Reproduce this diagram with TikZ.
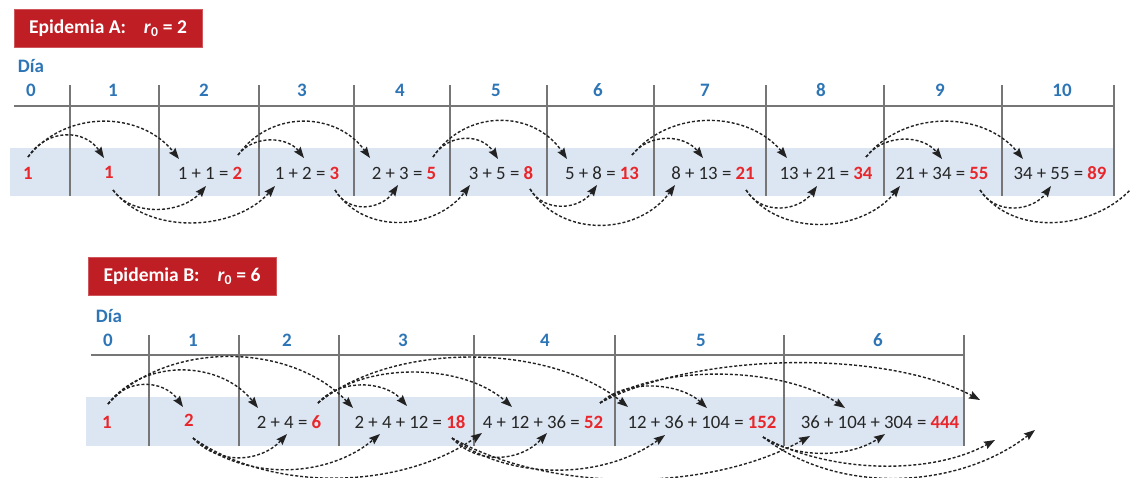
\documentclass[tikz,border=0pt]{standalone}
\usepackage{fontspec}
\setmainfont{Carlito}
\usetikzlibrary{arrows.meta}
\definecolor{titlered}{HTML}{BF1E24}
\definecolor{dayblue}{HTML}{2E75B6}
\definecolor{numred}{HTML}{E8262B}
\definecolor{bandblue}{HTML}{DCE6F2}
\definecolor{gridgray}{HTML}{767676}
\definecolor{arcc}{HTML}{222222}
\definecolor{celltext}{HTML}{262626}
\newcommand\rn[1]{\textcolor{numred}{\bfseries #1}}
\begin{document}
\begin{tikzpicture}[x=1pt,y=-1pt,
  titlebox/.style={fill=titlered, draw=titlered!75!white, line width=1pt, text=white,
    font=\fontsize{19.5}{22}\selectfont\bfseries, minimum width=188pt, minimum height=38pt, inner sep=0pt},
  dia/.style={text=dayblue, font=\fontsize{19}{22}\selectfont\bfseries, inner sep=0pt},
  cell/.style={font=\fontsize{18.8}{22}\selectfont, text=celltext, inner sep=0pt},
  gridline/.style={draw=gridgray, line width=2pt},
  band/.style={fill=bandblue, draw=none},
  arc/.style={draw=arcc, line width=1.4pt, dash pattern=on 3pt off 2pt,
    -{Stealth[length=11pt,width=8pt,inset=1.5pt]}},
]
\useasboundingbox (0,0) rectangle (1130,477);

% ================= Epidemia A =================
\node[titlebox] (tA) at (108,28) {Epidemia A:\hspace{18pt}\textit{r}\textsubscript{0} = 2};
\node[dia] (diaA) at (31,66) {Día};
\fill[band] (10,148) rectangle (1114,196);
\draw[gridline] (14,106) -- (1114,106);
\foreach \x in {70,159,259,354,450,547,654,766,884,1002,1114}
  \draw[gridline] (\x,85) -- (\x,196);
\foreach \d/\x in {0/31,1/113,2/204,3/302,4/400,5/496,6/598,7/705,8/821,9/940,10/1062}
  \node[dia] (dA\d) at (\x,90) {\d};

\node[cell] (A0) at (28,173) {\rn{1}};
\node[cell] (A1) at (109,172) {\rn{1}};
\node[cell] (A2) at (210,173) {1 + 1 = \rn{2}};
\node[cell] (A3) at (307,173) {1 + 2 = \rn{3}};
\node[cell] (A4) at (404,173) {2 + 3 = \rn{5}};
\node[cell] (A5) at (501,173) {3 + 5 = \rn{8}};
\node[cell] (A6) at (602,173) {5 + 8 = \rn{13}};
\node[cell] (A7) at (713,173) {8 + 13 = \rn{21}};
\node[cell] (A8) at (826,173) {13 + 21 = \rn{34}};
\node[cell] (A9) at (942,173) {21 + 34 = \rn{55}};
\node[cell] (A10) at (1060,173) {34 + 55 = \rn{89}};

% connector ends
\coordinate (a0u) at (28,157);  \coordinate (a2u) at (238,155);
\coordinate (a4u) at (433,157); \coordinate (a6u) at (632,155);
\coordinate (a8u) at (866,157);
\coordinate (a1i) at (104,158); \coordinate (a2i) at (179,159);
\coordinate (a3i) at (304,158); \coordinate (a4i) at (370,158);
\coordinate (a5i) at (498,159); \coordinate (a6i) at (567,159);
\coordinate (a7i) at (703,158); \coordinate (a8i) at (787,158);
\coordinate (a9i) at (942,159); \coordinate (a10i) at (1023,159);
\coordinate (a1d) at (113,190); \coordinate (a3d) at (335,190);
\coordinate (a5d) at (530,189); \coordinate (a7d) at (746,190);
\coordinate (a9d) at (980,190);
\coordinate (a2j) at (206,186); \coordinate (a3j) at (275,186);
\coordinate (a4j) at (398,185); \coordinate (a5j) at (470,185);
\coordinate (a6j) at (597,185); \coordinate (a7j) at (675,185);
\coordinate (a8j) at (817,186); \coordinate (a9j) at (900,186);
\coordinate (a10j) at (1051,186); \coordinate (aend) at (1140,178);

% upper arcs A
\draw[arc] (a0u) .. controls +(19,-29) and +(-19,-29) .. (a1i);
\draw[arc] (a0u) .. controls +(38,-48) and +(-38,-48) .. (a2i);
\draw[arc] (a2u) .. controls +(16,-21) and +(-16,-21) .. (a3i);
\draw[arc] (a2u) .. controls +(33,-46) and +(-33,-46) .. (a4i);
\draw[arc] (a4u) .. controls +(16,-25) and +(-16,-25) .. (a5i);
\draw[arc] (a4u) .. controls +(33,-49) and +(-33,-49) .. (a6i);
\draw[arc] (a6u) .. controls +(18,-23) and +(-18,-23) .. (a7i);
\draw[arc] (a6u) .. controls +(39,-47) and +(-39,-47) .. (a8i);
\draw[arc] (a8u) .. controls +(19,-24) and +(-19,-24) .. (a9i);
\draw[arc] (a8u) .. controls +(39,-48) and +(-39,-48) .. (a10i);
% lower arcs A
\draw[arc] (a1d) .. controls +(20,28) and +(-23,27) .. (a2j);
\draw[arc] (a1d) .. controls +(36,46) and +(-40,45) .. (a3j);
\draw[arc] (a3d) .. controls +(14,25) and +(-16,24) .. (a4j);
\draw[arc] (a3d) .. controls +(30,46) and +(-34,45) .. (a5j);
\draw[arc] (a5d) .. controls +(15,25) and +(-17,24) .. (a6j);
\draw[arc] (a5d) .. controls +(32,50) and +(-36,50) .. (a7j);
\draw[arc] (a7d) .. controls +(16,26) and +(-18,25) .. (a8j);
\draw[arc] (a7d) .. controls +(34,48) and +(-38,47) .. (a9j);
\draw[arc] (a9d) .. controls +(16,26) and +(-18,25) .. (a10j);
\draw[arc] (a9d) .. controls +(36,50) and +(-40,50) .. (aend);

% ================= Epidemia B =================
\node[titlebox] (tB) at (182,276) {Epidemia B:\hspace{18pt}\textit{r}\textsubscript{0} = 6};
\node[dia] (diaB) at (109,316) {Día};
\fill[band] (86,397) rectangle (964,446);
\draw[gridline] (91,355) -- (964,355);
\foreach \x in {149,239,339,474,615,784,964}
  \draw[gridline] (\x,335) -- (\x,446);
\foreach \d/\x in {0/108,1/193,2/287,3/403,4/545,5/701,6/878}
  \node[dia] (dB\d) at (\x,340) {\d};

\node[cell] (B0) at (107,422) {\rn{1}};
\node[cell] (B1) at (189,420) {\rn{2}};
\node[cell] (B2) at (289,422) {2 + 4 = \rn{6}};
\node[cell] (B3) at (410,422) {2 + 4 + 12 = \rn{18}};
\node[cell] (B4) at (543,422) {4 + 12 + 36 = \rn{52}};
\node[cell] (B5) at (702,422) {12 + 36 + 104 = \rn{152}};
\node[cell] (B6) at (880,422) {36 + 104 + 304 = \rn{444}};

\coordinate (b0u) at (108,404); \coordinate (b2u) at (318,403);
\coordinate (b4u) at (600,403);
\coordinate (b1i) at (183,407); \coordinate (b2i) at (258,408);
\coordinate (b3i) at (353,408); \coordinate (b3k) at (407,406);
\coordinate (b4i) at (512,407); \coordinate (b5i) at (628,407);
\coordinate (b5k) at (707,408); \coordinate (b6i) at (845,408);
\coordinate (bend1) at (980,400);
\coordinate (b1d) at (193,438); \coordinate (b3d) at (452,438);
\coordinate (b5d) at (763,437);
\coordinate (b2j) at (287,434); \coordinate (b3j) at (380,434);
\coordinate (b4j) at (482,433); \coordinate (b4k) at (547,433);
\coordinate (b5j) at (665,435); \coordinate (b6j) at (810,436);
\coordinate (b6k) at (885,434); \coordinate (bend2) at (995,440);
\coordinate (bend3) at (1035,430);

% upper arcs B
\draw[arc] (b0u) .. controls +(19,-27) and +(-19,-27) .. (b1i);
\draw[arc] (b0u) .. controls +(37,-47) and +(-37,-47) .. (b2i);
\draw[arc] (b0u) .. controls +(61,-65) and +(-61,-65) .. (b3i);
\draw[arc] (b2u) .. controls +(22,-25) and +(-22,-25) .. (b3k);
\draw[arc] (b2u) .. controls +(48,-43) and +(-48,-43) .. (b4i);
\draw[arc] (b2u) .. controls +(77,-63) and +(-77,-63) .. (b5i);
\draw[arc] (b4u) .. controls +(27,-25) and +(-27,-25) .. (b5k);
\draw[arc] (b4u) .. controls +(61,-41) and +(-61,-41) .. (b6i);
\draw[arc] (b4u) .. controls +(95,-51) and +(-95,-51) .. (bend1);
% lower arcs B
\draw[arc] (b1d) .. controls +(26,28) and +(-26,28) .. (b2j);
\draw[arc] (b1d) .. controls +(52,44) and +(-52,44) .. (b3j);
\draw[arc] (b1d) .. controls +(80,56) and +(-80,56) .. (b4j);
\draw[arc] (b3d) .. controls +(26,28) and +(-26,28) .. (b4k);
\draw[arc] (b3d) .. controls +(60,44) and +(-60,44) .. (b5j);
\draw[arc] (b3d) .. controls +(100,56) and +(-100,56) .. (b6j);
\draw[arc] (b5d) .. controls +(34,23) and +(-34,23) .. (b6k);
\draw[arc] (b5d) .. controls +(65,36) and +(-65,36) .. (bend2);
\draw[arc] (b5d) .. controls +(76,59) and +(-76,59) .. (bend3);
\end{tikzpicture}
\end{document}
